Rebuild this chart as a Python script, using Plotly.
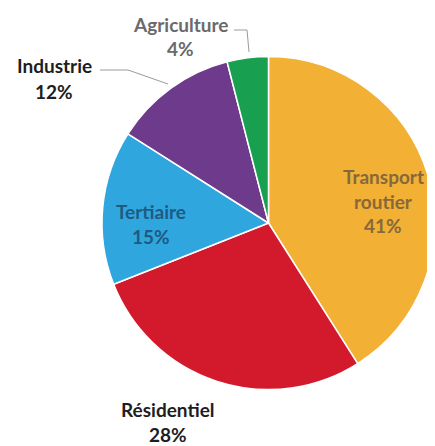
import plotly.graph_objects as go

# ---- data ----
categories = ["Transport routier", "Résidentiel", "Tertiaire", "Industrie", "Agriculture"]
values = [41, 28, 15, 12, 4]
colors = ["#F2B035", "#D31A2C", "#2FA7DE", "#6E3A8C", "#18A050"]

# page has an 8px body margin: draw in a figure 8px smaller and offset coordinates
OFF = 8
W, H = 435 - OFF, 446 - OFF

def px(x):
    return (x - OFF) / W

def py(y):
    return 1 - (y - OFF) / H

fig = go.Figure(go.Pie(
    labels=categories,
    values=values,
    sort=False,
    direction="clockwise",
    rotation=0,
    marker=dict(colors=colors, line=dict(color="white", width=1.5)),
    textinfo="none",
    hoverinfo="none",
    domain=dict(x=[px(102), 1.0], y=[py(392), py(54)]),
    showlegend=False,
))

# label layout: (centre x, first line y, text colour)
label_pos = {
    "Transport routier": (383, 176, "#86693A"),
    "Résidentiel": (168, 409, "#1E1E1E"),
    "Tertiaire": (151, 211, "#1F5A82"),
    "Industrie": (54, 66, "#1E1E1E"),
    "Agriculture": (180, 24, "#6A6A6A"),
}
line_gap = 25

annotations = []
for cat, val in zip(categories, values):
    cx, y0, col = label_pos[cat]
    lines = cat.split(" ") if cat == "Transport routier" else [cat]
    lines = lines + [f"{val}%"]
    for i, ln in enumerate(lines):
        annotations.append(dict(
            x=px(cx), y=py(y0 + i * line_gap), xref="paper", yref="paper",
            text=ln, showarrow=False, xanchor="center", yanchor="middle",
            font=dict(family="Lato", size=19, color=col, weight="bold"),
        ))

shapes = [
    # Industrie leader line
    dict(type="path", xref="paper", yref="paper",
         path=f"M {px(100)},{py(70)} L {px(128)},{py(70)} L {px(168)},{py(84)}",
         line=dict(color="#9A9A9A", width=1)),
    # Agriculture leader line
    dict(type="path", xref="paper", yref="paper",
         path=f"M {px(234)},{py(30)} L {px(247)},{py(30)} L {px(249)},{py(52)}",
         line=dict(color="#9A9A9A", width=1)),
]

fig.update_layout(
    width=W, height=H,
    margin=dict(l=0, r=0, t=0, b=0),
    paper_bgcolor="white", plot_bgcolor="white",
    annotations=annotations,
    shapes=shapes,
)

fig.write_html("out.html")
